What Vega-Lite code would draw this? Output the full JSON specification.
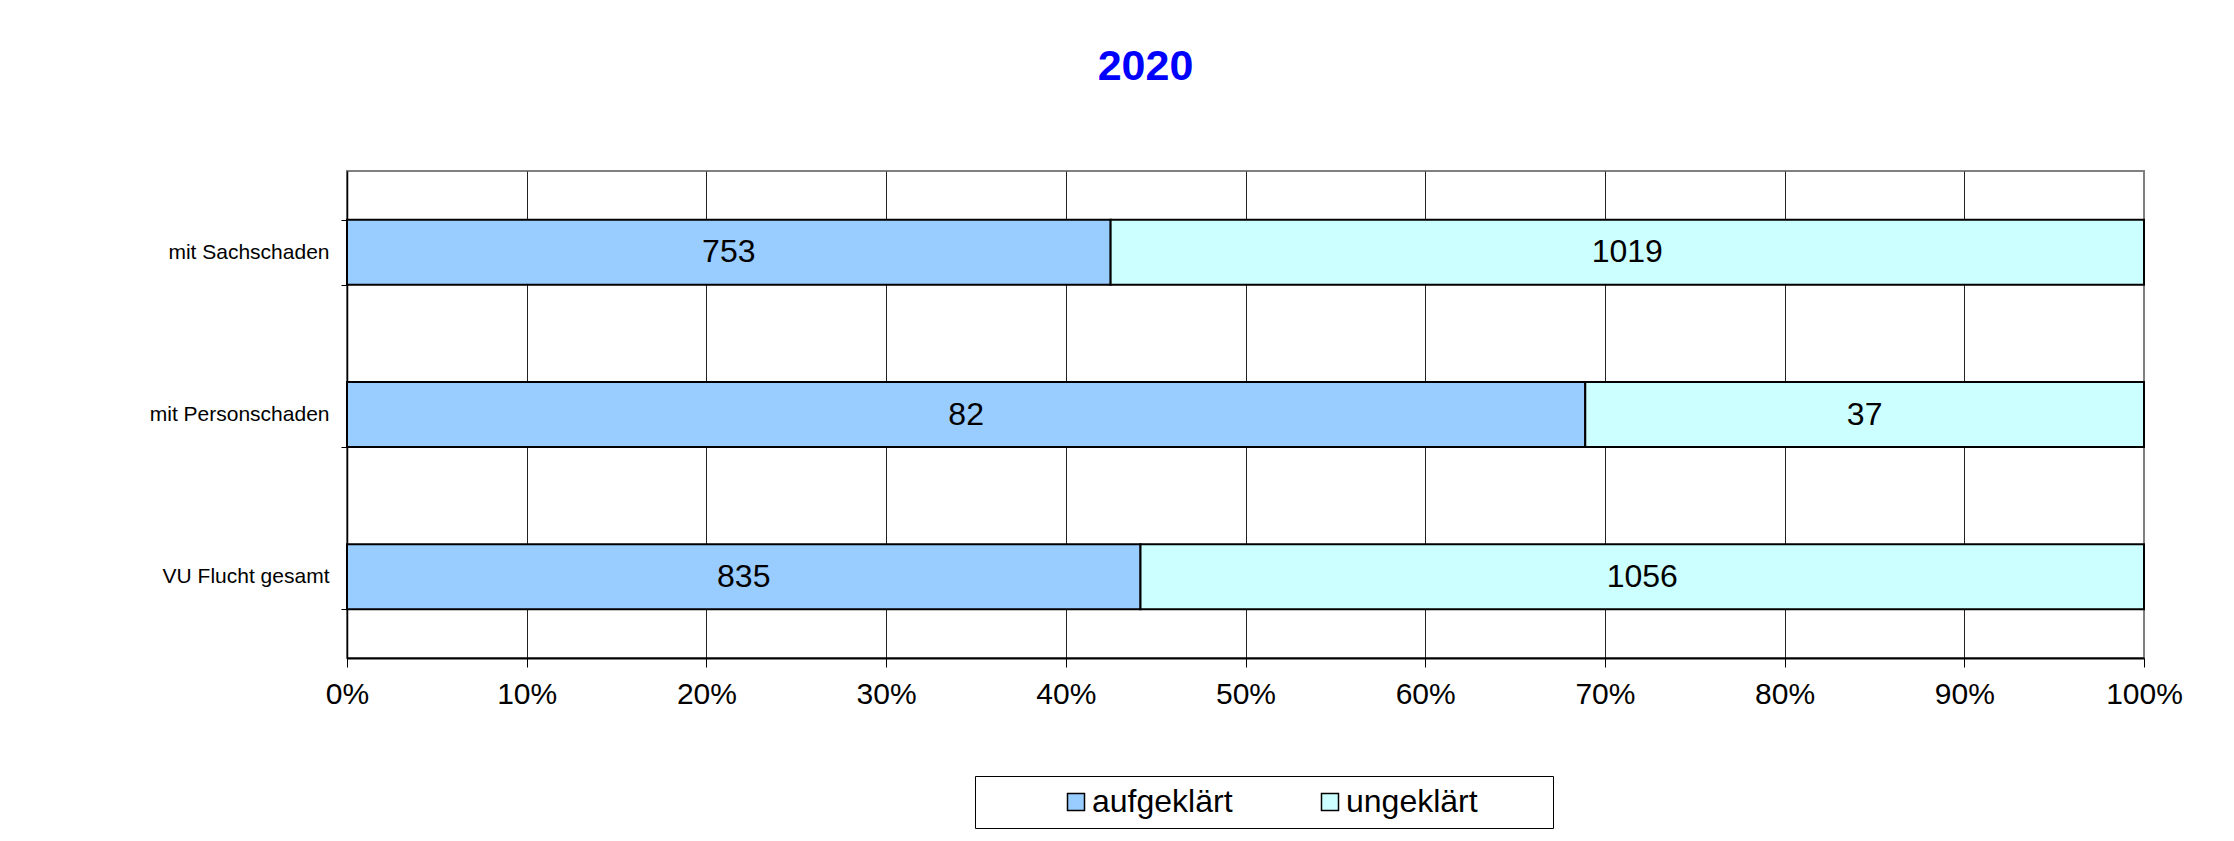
{
  "$schema": "https://vega.github.io/schema/vega-lite/v6.json",
  "autosize": {"type": "none"},
  "width": 1797,
  "height": 487,
  "padding": {"left": 347, "top": 171, "right": 90, "bottom": 183},
  "background": "white",
  "config": {"font": "Liberation Sans", "view": {"stroke": "#808080", "strokeWidth": 2}, "legend": {"symbolStrokeWidth": 1.5}},
  "title": {"text": "2020", "color": "#0000FF", "fontSize": 43, "fontWeight": "bold", "font": "Liberation Sans", "anchor": "middle", "frame": "group", "dx": -100, "baseline": "alphabetic", "offset": 37},
  "data": {"values": [
    {"kategorie": "mit Sachschaden", "status": "aufgeklärt", "anzahl": 753},
    {"kategorie": "mit Sachschaden", "status": "ungeklärt", "anzahl": 1019},
    {"kategorie": "mit Personschaden", "status": "aufgeklärt", "anzahl": 82},
    {"kategorie": "mit Personschaden", "status": "ungeklärt", "anzahl": 37},
    {"kategorie": "VU Flucht gesamt", "status": "aufgeklärt", "anzahl": 835},
    {"kategorie": "VU Flucht gesamt", "status": "ungeklärt", "anzahl": 1056}
  ]},
  "encoding": {
    "y": {"field": "kategorie", "type": "nominal", "sort": ["mit Sachschaden", "mit Personschaden", "VU Flucht gesamt"],
      "scale": {"paddingInner": 0.6, "paddingOuter": 0.3},
      "axis": {"title": null, "labelFontSize": 21, "labelColor": "black", "labelFont": "Liberation Sans", "tickBand": "extent", "tickSize": 6, "tickColor": "black", "domainColor": "black", "domainWidth": 1.5, "labelPadding": 12, "grid": false}}
  },
  "layer": [
    {
      "mark": {"type": "bar", "stroke": "black", "strokeWidth": 2},
      "encoding": {
        "x": {"field": "anzahl", "type": "quantitative", "stack": "normalize", "scale": {"domain": [0, 1]},
          "axis": {"title": null, "values": [0, 0.1, 0.2, 0.3, 0.4, 0.5, 0.6, 0.7, 0.8, 0.9, 1], "format": ".0%", "labelFontSize": 30, "labelColor": "black", "labelFont": "Liberation Sans", "tickSize": 9, "tickColor": "black", "domainColor": "black", "domainWidth": 2, "grid": true, "gridColor": {"condition": {"test": "datum.value == 1", "value": "#808080"}, "value": "#222222"}, "labelPadding": 12, "labelFlush": false, "labelOverlap": false}},
        "order": {"field": "status"},
        "color": {"field": "status", "type": "nominal",
          "scale": {"domain": ["aufgeklärt", "ungeklärt"], "range": ["#99CCFF", "#CCFFFF"]},
          "legend": {"title": "MMM", "titleOpacity": 0, "titleFontSize": 20, "titleOrient": "right", "titlePadding": 15, "orient": "none", "legendX": 628, "legendY": 605, "direction": "horizontal", "symbolType": "square", "symbolSize": 289, "symbolStrokeColor": "black", "labelFontSize": 32, "labelFont": "Liberation Sans", "labelColor": "black", "symbolOffset": 75, "labelOffset": 0, "columnPadding": 6, "padding": 10, "strokeColor": "black", "fillColor": "white"}}
      }
    },
    {
      "mark": {"type": "text", "fontSize": 32, "color": "black", "font": "Liberation Sans", "baseline": "middle", "align": "center"},
      "encoding": {
        "x": {"field": "anzahl", "type": "quantitative", "stack": "normalize", "bandPosition": 0.5},
        "detail": {"field": "status"},
        "order": {"field": "status"},
        "text": {"field": "anzahl", "type": "quantitative"}
      }
    }
  ]
}
